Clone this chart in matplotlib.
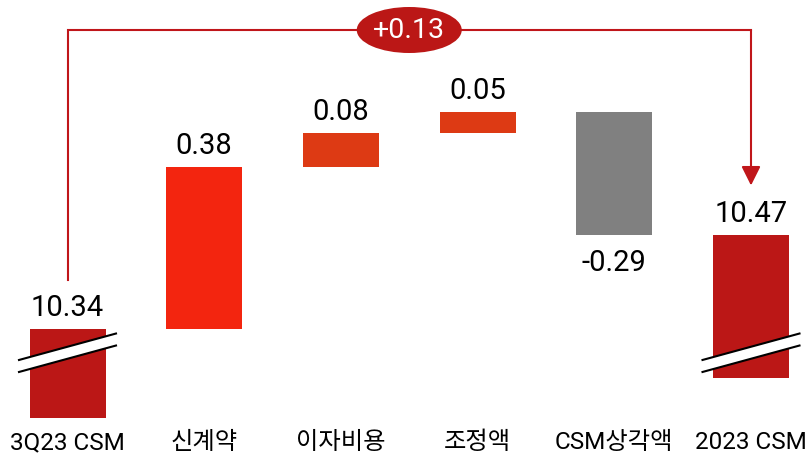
"""CSM waterfall, 3Q23 -> 2023, with broken bars at both ends."""

import matplotlib

matplotlib.use("Agg")
import matplotlib.pyplot as plt
from matplotlib.patches import Ellipse, Polygon

categories = ["3Q23 CSM", "신계약", "이자비용", "조정액", "CSM상각액", "2023 CSM"]
values = [10.34, 0.38, 0.08, 0.05, -0.29, 10.47]
value_labels = ["10.34", "0.38", "0.08", "0.05", "-0.29", "10.47"]
total_change = "+0.13"

colors = ["#BB1716", "#F3250F", "#DD3A14", "#DD3A14", "#808080", "#BB1716"]
bracket_color = "#C0161A"
fonts = ["Roboto", "Noto Sans CJK KR", "DejaVu Sans"]

# layout (pixel scale: 425 px per unit on y, 136.7 px per bar on x)
px_y = 425.0
px_x = 136.7
y_top = 11.114
x_left = -67.5 / px_x
start_base = y_top - 418 / px_y
end_base = y_top - 378 / px_y
break_mid = 10.284
bar_width = 76 / px_x

fig = plt.figure(figsize=(8.1, 4.55), dpi=100)
ax = fig.add_axes([0, 0, 1, 1])
ax.set_xlim(x_left, x_left + 810 / px_x)
ax.set_ylim(y_top - 455 / px_y, y_top)
ax.axis("off")

# bar extents
bottoms = []
tops = []
running = values[0]
bottoms.append(start_base)
tops.append(values[0])
for v in values[1:-1]:
    lo, hi = sorted([running, running + v])
    bottoms.append(lo)
    tops.append(hi)
    running += v
bottoms.append(end_base)
tops.append(running)

heights = [t - b for t, b in zip(tops, bottoms)]
xs = list(range(len(categories)))
ax.bar(xs, heights, bottom=bottoms, width=bar_width, color=colors, linewidth=0)

# value labels
for i, (x, v, lab) in enumerate(zip(xs, values, value_labels)):
    if i not in (0, len(xs) - 1) and v < 0:
        ax.annotate(lab, (x, bottoms[i]), xytext=(0, -10), textcoords="offset points",
                    ha="center", va="top", fontsize=21, family=fonts, color="black")
    else:
        ax.annotate(lab, (x, tops[i]), xytext=(0, 9.5), textcoords="offset points",
                    ha="center", va="baseline", fontsize=21, family=fonts, color="black")

# category labels
for x, cat in zip(xs, categories):
    ax.text(x, y_top - 449 / px_y, cat, ha="center", va="baseline", fontsize=17.5,
            family=fonts, color="black")

# axis break marks
half = 49.5 / px_x
slope = (27 / px_y) / (99 / px_x)
gap = 12 / px_y
for x in (xs[0], xs[-1]):
    lo_l = break_mid - gap / 2 - slope * half
    lo_r = break_mid - gap / 2 + slope * half
    poly = Polygon([(x - half, lo_l), (x + half, lo_r), (x + half, lo_r + gap), (x - half, lo_l + gap)],
                   closed=True, facecolor="white", edgecolor="none", zorder=3)
    ax.add_patch(poly)
    ax.plot([x - half, x + half], [lo_l, lo_r], color="black", lw=1.5, zorder=4, solid_capstyle="butt")
    ax.plot([x - half, x + half], [lo_l + gap, lo_r + gap], color="black", lw=1.5, zorder=4,
            solid_capstyle="butt")

# bracket with arrow
bracket_y = y_top - 30 / px_y
left_bottom = tops[0] + 49 / px_y
arrow_tip = tops[-1] + 50 / px_y
ax.plot([xs[0], xs[0], xs[-1]], [left_bottom, bracket_y, bracket_y], color=bracket_color, lw=1.5,
        solid_joinstyle="miter")
ax.annotate("", xy=(xs[-1], arrow_tip), xytext=(xs[-1], bracket_y),
            arrowprops=dict(arrowstyle="-|>,head_length=0.4,head_width=0.2", color=bracket_color,
                            lw=1.5, mutation_scale=29, shrinkA=0, shrinkB=0))

mid = (xs[0] + xs[-1]) / 2
ax.add_patch(Ellipse((mid, bracket_y), 105 / px_x, 46 / px_y, facecolor="#BB1716", edgecolor="none",
                     zorder=5))
ax.text(mid, bracket_y, total_change, ha="center", va="center", fontsize=20.5,
        family=fonts, color="white", zorder=6)

fig.savefig("out.png", dpi=100)
